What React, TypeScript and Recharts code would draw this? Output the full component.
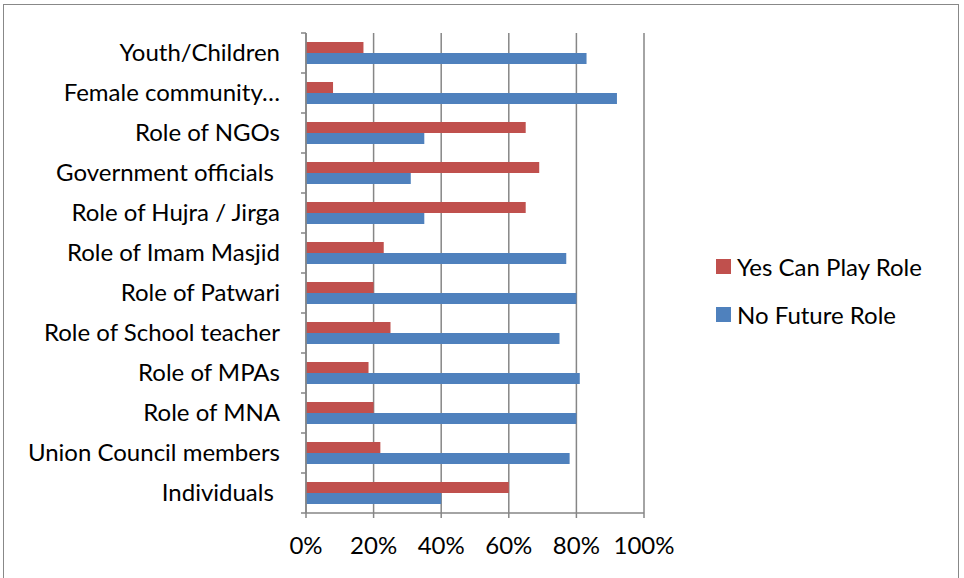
import React from "react";
import {
  BarChart,
  Bar,
  XAxis,
  YAxis,
  CartesianGrid,
  Legend,
} from "recharts";

const categories = [
  "Youth/Children",
  "Female community…",
  "Role of NGOs",
  "Government officials ",
  "Role of Hujra / Jirga",
  "Role of Imam Masjid",
  "Role of Patwari",
  "Role of School teacher",
  "Role of MPAs",
  "Role of MNA",
  "Union Council members",
  "Individuals ",
];
const yesValues = [17, 8, 65, 69, 65, 23, 20, 25, 18.5, 20, 22, 60];
const noValues = [83, 92, 35, 31, 35, 77, 80, 75, 81, 80, 78, 40];
const xTicks = [0, 20, 40, 60, 80, 100];

const YES_COLOR = "#C0504D";
const NO_COLOR = "#4F81BD";
const AXIS_COLOR = "#868686";
const FONT = "Lato, 'Open Sans', sans-serif";
const FONT_SIZE = 24;

const data = categories.map((name, i) => ({
  name,
  yes: yesValues[i],
  no: noValues[i],
}));

// category labels plus the Excel-style tick marks between categories
function CategoryTick(props: any) {
  const { x, y, payload, index } = props;
  const half = payload?.offset ?? 20;
  const axisX = x + 26;
  return (
    <g>
      <line x1={axisX - 5} x2={axisX} y1={y - half} y2={y - half} stroke={AXIS_COLOR} strokeWidth={1.5} />
      {index === categories.length - 1 && (
        <line x1={axisX - 5} x2={axisX} y1={y + half} y2={y + half} stroke={AXIS_COLOR} strokeWidth={1.5} />
      )}
      <text
        x={x}
        y={y}
        dy={-2}
        textAnchor="end"
        dominantBaseline="central"
        fill="#000"
        fontSize={FONT_SIZE}
        fontFamily={FONT}
        style={{ whiteSpace: "pre" }}
      >
        {payload.value}
      </text>
    </g>
  );
}

function LegendContent() {
  const items = [
    { label: "Yes Can Play Role", color: YES_COLOR },
    { label: "No Future Role", color: NO_COLOR },
  ];
  return (
    <div style={{ fontFamily: FONT, fontSize: FONT_SIZE, color: "#000" }}>
      {items.map((it) => (
        <div key={it.label} style={{ display: "flex", alignItems: "center", height: 48 }}>
          <span style={{ width: 15, height: 15, background: it.color, marginRight: 6 }} />
          <span>{it.label}</span>
        </div>
      ))}
    </div>
  );
}

export default function App() {
  return (
    <div style={{ position: "relative", width: 964, height: 578, background: "#fff", overflow: "hidden" }}>
      <style>{"body{margin:0}"}</style>
      <div
        style={{
          position: "absolute",
          left: 3,
          top: 4,
          width: 956,
          height: 600,
          border: "1px solid #888",
          boxSizing: "border-box",
        }}
      />
      <BarChart
        width={964}
        height={578}
        data={data}
        layout="vertical"
        margin={{ top: 33, right: 320, bottom: 0, left: 0 }}
        barCategoryGap="22%"
        barGap={0}
        style={{ position: "absolute", left: 0, top: 0 }}
      >
        <CartesianGrid horizontal={false} stroke={AXIS_COLOR} strokeWidth={1.5} />
        <XAxis
          type="number"
          domain={[0, 100]}
          ticks={xTicks}
          tickFormatter={(v) => `${v}%`}
          axisLine={{ stroke: AXIS_COLOR, strokeWidth: 1.5 }}
          tickLine={{ stroke: AXIS_COLOR, strokeWidth: 1.5 }}
          tickSize={5}
          tickMargin={19}
          height={65}
          tick={{ fill: "#000", fontSize: FONT_SIZE, fontFamily: FONT }}
          interval={0}
        />
        <YAxis
          type="category"
          dataKey="name"
          width={306}
          axisLine={{ stroke: AXIS_COLOR, strokeWidth: 1.5 }}
          tickLine={false}
          tickMargin={26}
          tickSize={0}
          tick={<CategoryTick />}
          interval={0}
        />
        <Legend
          layout="vertical"
          align="center"
          verticalAlign="middle"
          content={<LegendContent />}
          wrapperStyle={{ left: 716, top: 242, width: 240 }}
        />
        <Bar dataKey="yes" name="Yes Can Play Role" fill={YES_COLOR} barSize={11} isAnimationActive={false} />
        <Bar dataKey="no" name="No Future Role" fill={NO_COLOR} barSize={11} isAnimationActive={false} />
      </BarChart>
    </div>
  );
}
